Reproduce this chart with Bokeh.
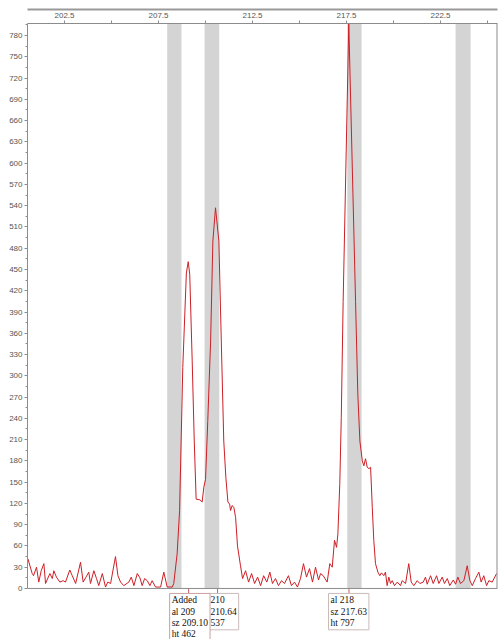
from bokeh.plotting import figure
from bokeh.models import Range1d, FixedTicker, LinearAxis, Label, ColumnDataSource, Span
from bokeh.embed import file_html
from bokeh.resources import INLINE

# trace (size in bp, height in RFU)
size = [200.55, 200.78, 200.85, 201.01, 201.13, 201.26, 201.40, 201.49, 201.72, 201.85,
        201.93, 202.07, 202.25, 202.43, 202.55, 202.78, 202.91, 203.09, 203.35, 203.49,
        203.62, 203.79, 203.88, 204.06, 204.20, 204.32, 204.51, 204.68, 204.80, 204.95,
        205.21, 205.34, 205.48, 205.65, 205.92, 206.05, 206.19, 206.37, 206.51, 206.63,
        206.76, 206.90, 207.04, 207.16, 207.34, 207.61, 207.78, 207.96, 208.23, 208.31,
        208.49, 208.62, 208.79, 208.98, 209.08, 209.16, 209.29, 209.40, 209.50, 209.70,
        209.82, 209.91, 210.00, 210.12, 210.27, 210.39, 210.53, 210.71, 210.85, 210.97,
        211.08, 211.19, 211.28, 211.33, 211.42, 211.51, 211.60, 211.70, 211.86, 211.97,
        212.13, 212.29, 212.45, 212.61, 212.77, 212.93, 213.09, 213.26, 213.42, 213.56,
        213.72, 213.88, 214.04, 214.20, 214.41, 214.57, 214.73, 214.89, 215.05, 215.21,
        215.37, 215.53, 215.69, 215.85, 216.01, 216.12, 216.26, 216.47, 216.61, 216.74,
        216.86, 216.97, 217.04, 217.14, 217.22, 217.32, 217.62, 217.98, 218.10, 218.21,
        218.34, 218.42, 218.51, 218.60, 218.69, 218.78, 218.87, 218.95, 219.04, 219.17,
        219.27, 219.36, 219.48, 219.57, 219.66, 219.75, 219.84, 219.93, 220.05, 220.20,
        220.37, 220.46, 220.64, 220.81, 220.94, 221.08, 221.26, 221.40, 221.58, 221.70,
        221.79, 221.97, 222.11, 222.29, 222.41, 222.59, 222.71, 222.86, 222.99, 223.18,
        223.30, 223.42, 223.56, 223.74, 223.92, 224.06, 224.19, 224.36, 224.54, 224.66,
        224.80, 224.95, 225.07, 225.25, 225.48]
height = [42, 21, 18, 30, 9, 25, 35, 7, 21, 14,
          25, 16, 9, 11, 9, 26, 18, 7, 37, 9,
          15, 23, 7, 25, 14, 4, 21, 2, 9, 7,
          45, 18, 9, 4, 9, 16, 4, 21, 15, 4,
          14, 11, 4, 11, 2, 2, 23, 2, 2, 7,
          49, 110, 312, 445, 461, 443, 321, 208, 126, 125,
          122, 143, 154, 237, 349, 490, 537, 490, 335, 208,
          157, 122, 119, 110, 117, 114, 100, 60, 32, 14,
          25, 9, 21, 7, 16, 4, 18, 9, 23, 7,
          14, 4, 11, 7, 18, 4, 9, 2, 14, 35,
          16, 28, 9, 30, 12, 21, 18, 9, 35, 30,
          68, 58, 77, 147, 241, 405, 797, 405, 274, 208,
          180, 173, 183, 171, 169, 171, 114, 68, 35, 23,
          18, 22, 18, 23, 4, 16, 7, 11, 4, 9,
          4, 11, 7, 35, 9, 4, 11, 7, 9, 16,
          6, 18, 7, 18, 7, 16, 7, 14, 4, 12,
          6, 16, 7, 11, 32, 11, 4, 14, 23, 9,
          18, 4, 11, 9, 21]

# allele bins (grey bands)
bin_left = [207.96, 209.95, 217.54, 223.30]
bin_right = [208.72, 210.73, 218.30, 224.10]

# axis ticks
x_major = [202.5, 207.5, 212.5, 217.5, 222.5]
x_minor = [205, 210, 215, 220, 225]
y_major = list(range(0, 781, 30))
y_minor = list(range(15, 796, 30))

# peak annotations
ann_sz = [209.10, 210.64, 217.63]
ann_size = [208.09, 210.16, 216.54]
ann_text = ["Added\nal 209\nsz 209.10\nht 462", "210\n210.64\n537", "al 218\nsz 217.63\nht 797"]

X0, X1 = 200.53, 225.53
Y0, Y1 = 0, 797

p = figure(width=500, height=639, output_backend="svg", toolbar_location=None,
           x_range=Range1d(X0, X1), y_range=Range1d(-72, Y1),
           x_axis_location="above",
           min_border_left=27, min_border_right=3, min_border_top=23, min_border_bottom=0)
p.grid.visible = False
p.outline_line_color = None
p.background_fill_color = "white"
p.border_fill_color = "white"

p.quad(left=bin_left, right=bin_right, bottom=Y0, top=Y1, fill_color="#d4d4d4", line_color=None)

src = ColumnDataSource(dict(x=size, y=height))
p.line("x", "y", source=src, line_color="#cc1f26", line_width=1)

# frame: baseline and right edge
p.add_layout(Span(location=0, dimension="width", line_color="#8c8c8c", line_width=1))
p.segment(x0=[X1], y0=[Y0], x1=[X1], y1=[Y1], line_color="#8c8c8c", line_width=2)

# marker ticks from baseline to the annotation boxes
p.segment(x0=ann_sz, y0=[0] * 3, x1=ann_sz, y1=[-7] * 3, line_color="#c86060", line_width=1)

for ax in p.xaxis:
    ax.ticker = FixedTicker(ticks=x_major, minor_ticks=x_minor)
    ax.major_label_text_font = "Liberation Sans"
    ax.major_label_text_font_size = "8px"
    ax.major_label_text_color = "#555555"
    ax.axis_line_color = "#8c8c8c"
    ax.major_tick_line_color = "#8c8c8c"
    ax.minor_tick_line_color = "#8c8c8c"
    ax.major_tick_out = 3
    ax.major_tick_in = 0
    ax.minor_tick_out = 3
    ax.minor_tick_in = 0
    ax.major_label_standoff = 3

for ax in p.yaxis:
    ax.ticker = FixedTicker(ticks=y_major, minor_ticks=y_minor)
    ax.bounds = (Y0, Y1)
    ax.major_label_text_font = "Liberation Sans"
    ax.major_label_text_font_size = "8px"
    ax.major_label_text_color = "#555555"
    ax.axis_line_color = "#8c8c8c"
    ax.major_tick_line_color = "#8c8c8c"
    ax.minor_tick_line_color = "#8c8c8c"
    ax.major_tick_out = 3
    ax.major_tick_in = 0
    ax.minor_tick_out = 2
    ax.minor_tick_in = 0
    ax.major_label_standoff = 2

# outer rule line across the top
top_rule = LinearAxis(ticker=FixedTicker(ticks=[]), axis_line_color="#999999",
                      axis_line_width=2, major_label_text_font_size="0px",
                      major_tick_line_color=None, minor_tick_line_color=None)
p.add_layout(top_rule, "above")

borders = ["#c9a0a0", "#cbbaba", "#cbbaba"]
order = [1, 0, 2]
for i in order:
    p.add_layout(Label(x=ann_size[i], y=-7.0, text=ann_text[i],
                       text_font="Liberation Serif", text_font_size="9.5px",
                       text_line_height=1.12, text_align="left", text_baseline="top",
                       text_color="#111111",
                       background_fill_color="white", border_line_color=borders[i],
                       padding=2))

open("out.html", "w").write(file_html(p, INLINE))
